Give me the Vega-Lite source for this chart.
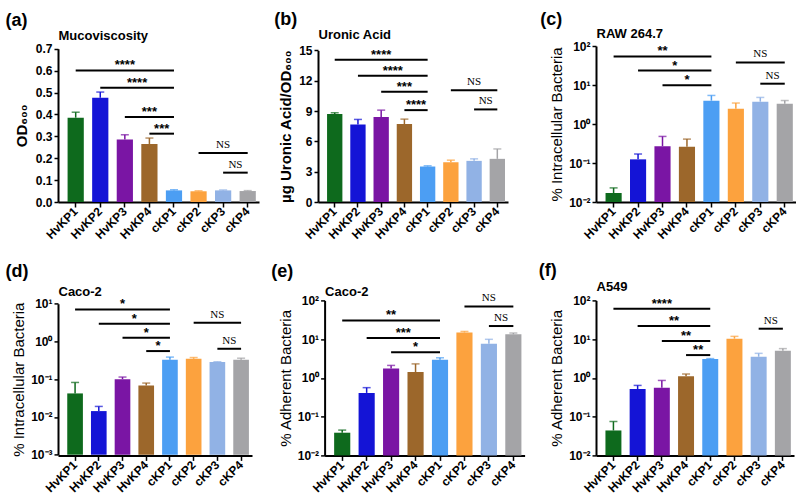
{
"$schema": "https://vega.github.io/schema/vega-lite/v6.json",
"background": "white",
"padding": {"left": 5, "top": 11, "right": 0, "bottom": 0},
"config": {
  "view": {"stroke": null},
  "font": "Liberation Sans",
  "axis": {"labelFont": "Liberation Sans", "labelFontSize": 12, "labelFontWeight": "bold", "labelColor": "black", "labelOverlap": false, "titleFont": "Liberation Sans", "titleColor": "black", "domainColor": "black", "domainWidth": 2, "tickColor": "black", "tickWidth": 1.5, "tickSize": 5, "grid": false, "labelPadding": 2}
},
"datasets": {
  "a": [{"g":"HvKP1","v":0.385,"e":0.41},{"g":"HvKP2","v":0.476,"e":0.502},{"g":"HvKP3","v":0.285,"e":0.307},{"g":"HvKP4","v":0.265,"e":0.292},{"g":"cKP1","v":0.053,"e":0.056},{"g":"cKP2","v":0.049,"e":0.051},{"g":"cKP3","v":0.053,"e":0.055},{"g":"cKP4","v":0.05,"e":0.052}],
  "a_sig": [{"a":"HvKP1","b":"cKP1","y":0.601,"t":"****","m":"HvKP3","h":false},{"a":"HvKP2","b":"cKP1","y":0.522,"t":"****","m":"HvKP3","h":true},{"a":"HvKP3","b":"cKP1","y":0.388,"t":"***","m":"HvKP4","h":false},{"a":"HvKP4","b":"cKP1","y":0.312,"t":"***","m":"HvKP4","h":true},{"a":"cKP2","b":"cKP4","y":0.224,"t":"NS","m":"cKP3","h":false},{"a":"cKP3","b":"cKP4","y":0.134,"t":"NS","m":"cKP3","h":true}],
  "b": [{"g":"HvKP1","v":8.70,"e":8.83},{"g":"HvKP2","v":7.68,"e":8.17},{"g":"HvKP3","v":8.40,"e":9.09},{"g":"HvKP4","v":7.71,"e":8.2},{"g":"cKP1","v":3.51,"e":3.58},{"g":"cKP2","v":3.94,"e":4.14},{"g":"cKP3","v":4.07,"e":4.27},{"g":"cKP4","v":4.27,"e":5.25}],
  "b_sig": [{"a":"HvKP1","b":"cKP1","y":14.08,"t":"****","m":"HvKP3","h":false},{"a":"HvKP2","b":"cKP1","y":12.5,"t":"****","m":"HvKP3","h":true},{"a":"HvKP3","b":"cKP1","y":10.9,"t":"***","m":"HvKP4","h":false},{"a":"HvKP4","b":"cKP1","y":9.09,"t":"****","m":"HvKP4","h":true},{"a":"cKP2","b":"cKP4","y":11.06,"t":"NS","m":"cKP3","h":false},{"a":"cKP3","b":"cKP4","y":9.16,"t":"NS","m":"cKP3","h":true}],
  "c": [{"g":"HvKP1","v":0.017,"e":0.023},{"g":"HvKP2","v":0.124,"e":0.17},{"g":"HvKP3","v":0.27,"e":0.48},{"g":"HvKP4","v":0.26,"e":0.41},{"g":"cKP1","v":3.96,"e":5.4},{"g":"cKP2","v":2.47,"e":3.45},{"g":"cKP3","v":3.74,"e":4.8},{"g":"cKP4","v":3.3,"e":4.0}],
  "c_sig": [{"a":"HvKP1","b":"cKP1","y":54,"t":"**","m":"HvKP3","h":false},{"a":"HvKP2","b":"cKP1","y":23.4,"t":"*","m":"HvKP3","h":true},{"a":"HvKP3","b":"cKP1","y":9.8,"t":"*","m":"HvKP4","h":false},{"a":"cKP2","b":"cKP4","y":38,"t":"NS","m":"cKP3","h":false},{"a":"cKP3","b":"cKP4","y":10.8,"t":"NS","m":"cKP3","h":true}],
  "d": [{"g":"HvKP1","v":0.042,"e":0.082},{"g":"HvKP2","v":0.0143,"e":0.019},{"g":"HvKP3","v":0.10,"e":0.114},{"g":"HvKP4","v":0.0686,"e":0.079},{"g":"cKP1","v":0.327,"e":0.385},{"g":"cKP2","v":0.348,"e":0.375},{"g":"cKP3","v":0.284,"e":0.29},{"g":"cKP4","v":0.327,"e":0.36}],
  "d_sig": [{"a":"HvKP1","b":"cKP1","y":7.05,"t":"*","m":"HvKP3","h":false},{"a":"HvKP2","b":"cKP1","y":2.94,"t":"*","m":"HvKP3","h":true},{"a":"HvKP3","b":"cKP1","y":1.25,"t":"*","m":"HvKP4","h":false},{"a":"HvKP4","b":"cKP1","y":0.556,"t":"*","m":"HvKP4","h":true},{"a":"cKP2","b":"cKP4","y":3.13,"t":"NS","m":"cKP3","h":false},{"a":"cKP3","b":"cKP4","y":0.64,"t":"NS","m":"cKP3","h":true}],
  "e": [{"g":"HvKP1","v":0.0385,"e":0.045},{"g":"HvKP2","v":0.41,"e":0.56},{"g":"HvKP3","v":1.76,"e":2.1},{"g":"HvKP4","v":1.41,"e":2.3},{"g":"cKP1","v":2.94,"e":3.3},{"g":"cKP2","v":14.9,"e":15.8},{"g":"cKP3","v":7.6,"e":9.9},{"g":"cKP4","v":13.3,"e":14.4}],
  "e_sig": [{"a":"HvKP1","b":"cKP1","y":30.5,"t":"**","m":"HvKP3","h":false},{"a":"HvKP2","b":"cKP1","y":10.7,"t":"***","m":"HvKP3","h":true},{"a":"HvKP3","b":"cKP1","y":4.6,"t":"*","m":"HvKP4","h":false},{"a":"cKP2","b":"cKP4","y":70,"t":"NS","m":"cKP3","h":false},{"a":"cKP3","b":"cKP4","y":21.8,"t":"NS","m":"cKP3","h":true}],
  "f": [{"g":"HvKP1","v":0.044,"e":0.075},{"g":"HvKP2","v":0.515,"e":0.64},{"g":"HvKP3","v":0.557,"e":0.86},{"g":"HvKP4","v":1.11,"e":1.26},{"g":"cKP1","v":3.06,"e":3.15},{"g":"cKP2","v":10.3,"e":11.8},{"g":"cKP3","v":3.52,"e":4.3},{"g":"cKP4","v":5.0,"e":5.7}],
  "f_sig": [{"a":"HvKP1","b":"cKP1","y":61,"t":"****","m":"HvKP3","h":false},{"a":"HvKP2","b":"cKP1","y":21.8,"t":"**","m":"HvKP3","h":true},{"a":"HvKP3","b":"cKP1","y":8.9,"t":"**","m":"HvKP4","h":false},{"a":"HvKP4","b":"cKP1","y":3.88,"t":"**","m":"HvKP4","h":true},{"a":"cKP3","b":"cKP4","y":18.6,"t":"NS","m":"cKP3","h":true}]
},
"columns": 3,
"align": "each",
"bounds": "flush",
"spacing": {"row": 98.4, "column": 40},
"concat": [
{
 "width": 219.2, "height": 156,
 "title": {"text": "(a)", "anchor": "start", "frame": "group", "dx": -52.5, "fontSize": 18, "fontWeight": "bold", "font": "Liberation Sans", "color": "black", "baseline": "alphabetic", "offset": -14},
 "resolve": {"axis": {"x": "independent"}},
 "layer": [
  {"data": {"name": "a"}, "mark": "bar", "encoding": {
    "x": {"field": "g", "type": "nominal", "scale": {"domain": ["HvKP1","HvKP2","HvKP3","HvKP4","cKP1","cKP2","cKP3","cKP4"], "paddingInner": 0.34, "paddingOuter": 0.26, "align": 0.75, "rangeMax": 201}, "axis": {"orient": "bottom", "title": null, "labelAngle": -45, "labelAlign": "right", "labelBaseline": "middle", "labelPadding": 2}},
    "y": {"field": "v", "type": "quantitative", "scale": {"domain": [0, 0.7], "nice": false, "zero": false, "rangeMin": 156, "rangeMax": 2.7}, "axis": {"title": "OD₆₀₀", "titleFontSize": 15, "titleFontWeight": "bold", "values": [0,0.1,0.2,0.3,0.4,0.5,0.6,0.7], "tickCount": 20, "format": ".1f", "labelOverlap": false, "tickSize": 4, "titlePadding": 6}},
    "y2": {"datum": 0},
    "color": {"field": "g", "type": "nominal", "scale": {"domain": ["HvKP1","HvKP2","HvKP3","HvKP4","cKP1","cKP2","cKP3","cKP4"], "range": ["#0e6a1d","#1414d6","#7a15a4","#9c672b","#4c9ef3","#fca23e","#91b2e5","#a4a4a7"]}, "legend": null}}},
  {"data": {"name": "a"}, "mark": {"type": "rule", "strokeWidth": 1.5}, "encoding": {
    "x": {"field": "g", "type": "nominal", "scale": {"domain": ["HvKP1","HvKP2","HvKP3","HvKP4","cKP1","cKP2","cKP3","cKP4"], "paddingInner": 0.34, "paddingOuter": 0.26, "align": 0.75, "rangeMax": 201}, "axis": null},
    "y": {"field": "v", "type": "quantitative", "scale": {"domain": [0, 0.7], "nice": false, "zero": false, "rangeMin": 156, "rangeMax": 2.7}},
    "y2": {"field": "e"},
    "color": {"field": "g", "type": "nominal", "legend": null}}},
  {"data": {"name": "a"}, "mark": {"type": "tick", "orient": "horizontal", "size": 8, "thickness": 1.5}, "encoding": {
    "x": {"field": "g", "type": "nominal", "scale": {"domain": ["HvKP1","HvKP2","HvKP3","HvKP4","cKP1","cKP2","cKP3","cKP4"], "paddingInner": 0.34, "paddingOuter": 0.26, "align": 0.75, "rangeMax": 201}, "axis": null},
    "y": {"field": "e", "type": "quantitative", "scale": {"domain": [0, 0.7], "nice": false, "zero": false, "rangeMin": 156, "rangeMax": 2.7}},
    "color": {"field": "g", "type": "nominal", "legend": null}}},
  {"data": {"name": "a_sig"}, "mark": {"type": "rule", "strokeWidth": 2, "color": "black"}, "encoding": {
    "x": {"field": "a", "type": "nominal", "scale": {"domain": ["HvKP1","HvKP2","HvKP3","HvKP4","cKP1","cKP2","cKP3","cKP4"], "paddingInner": 0.34, "paddingOuter": 0.26, "align": 0.75, "rangeMax": 201}, "axis": {"orient": "top", "title": "Mucoviscosity", "labels": false, "ticks": false, "domain": false, "titleAnchor": "start", "titleAlign": "left", "titleBaseline": "alphabetic", "titlePadding": 6.3, "titleFontSize": 13, "titleFontWeight": "bold"}},
    "x2": {"field": "b"},
    "y": {"field": "y", "type": "quantitative", "scale": {"domain": [0, 0.7], "nice": false, "zero": false, "rangeMin": 156, "rangeMax": 2.7}}}},
  {"data": {"name": "a_sig"}, "transform": [{"filter": "datum.t != 'NS' && !datum.h"}], "mark": {"type": "text", "font": "Liberation Sans", "fontWeight": "bold", "fontSize": 13, "baseline": "alphabetic", "dy": -1, "color": "black"}, "encoding": {
    "x": {"field": "m", "type": "nominal", "scale": {"domain": ["HvKP1","HvKP2","HvKP3","HvKP4","cKP1","cKP2","cKP3","cKP4"], "paddingInner": 0.34, "paddingOuter": 0.26, "align": 0.75, "rangeMax": 201}, "axis": null},
    "y": {"field": "y", "type": "quantitative", "scale": {"domain": [0, 0.7], "nice": false, "zero": false, "rangeMin": 156, "rangeMax": 2.7}},
    "text": {"field": "t"}}},
  {"data": {"name": "a_sig"}, "transform": [{"filter": "datum.t != 'NS' && datum.h"}], "mark": {"type": "text", "font": "Liberation Sans", "fontWeight": "bold", "fontSize": 13, "baseline": "alphabetic", "dy": -1, "color": "black"}, "encoding": {
    "x": {"field": "m", "type": "nominal", "bandPosition": 1.2576, "scale": {"domain": ["HvKP1","HvKP2","HvKP3","HvKP4","cKP1","cKP2","cKP3","cKP4"], "paddingInner": 0.34, "paddingOuter": 0.26, "align": 0.75, "rangeMax": 201}, "axis": null},
    "y": {"field": "y", "type": "quantitative", "scale": {"domain": [0, 0.7], "nice": false, "zero": false, "rangeMin": 156, "rangeMax": 2.7}},
    "text": {"field": "t"}}},
  {"data": {"name": "a_sig"}, "transform": [{"filter": "datum.t == 'NS' && !datum.h"}], "mark": {"type": "text", "font": "Liberation Serif", "fontSize": 11, "baseline": "alphabetic", "dy": -5, "color": "black"}, "encoding": {
    "x": {"field": "m", "type": "nominal", "scale": {"domain": ["HvKP1","HvKP2","HvKP3","HvKP4","cKP1","cKP2","cKP3","cKP4"], "paddingInner": 0.34, "paddingOuter": 0.26, "align": 0.75, "rangeMax": 201}, "axis": null},
    "y": {"field": "y", "type": "quantitative", "scale": {"domain": [0, 0.7], "nice": false, "zero": false, "rangeMin": 156, "rangeMax": 2.7}},
    "text": {"field": "t"}}},
  {"data": {"name": "a_sig"}, "transform": [{"filter": "datum.t == 'NS' && datum.h"}], "mark": {"type": "text", "font": "Liberation Serif", "fontSize": 11, "baseline": "alphabetic", "dy": -5, "color": "black"}, "encoding": {
    "x": {"field": "m", "type": "nominal", "bandPosition": 1.2576, "scale": {"domain": ["HvKP1","HvKP2","HvKP3","HvKP4","cKP1","cKP2","cKP3","cKP4"], "paddingInner": 0.34, "paddingOuter": 0.26, "align": 0.75, "rangeMax": 201}, "axis": null},
    "y": {"field": "y", "type": "quantitative", "scale": {"domain": [0, 0.7], "nice": false, "zero": false, "rangeMin": 156, "rangeMax": 2.7}},
    "text": {"field": "t"}}}
 ]
},
{
 "width": 237.3, "height": 156,
 "title": {"text": "(b)", "anchor": "start", "frame": "group", "dx": -43.7, "fontSize": 18, "fontWeight": "bold", "font": "Liberation Sans", "color": "black", "baseline": "alphabetic", "offset": -14.7},
 "resolve": {"axis": {"x": "independent"}},
 "layer": [
  {"data": {"name": "b"}, "mark": "bar", "encoding": {
    "x": {"field": "g", "type": "nominal", "scale": {"domain": ["HvKP1","HvKP2","HvKP3","HvKP4","cKP1","cKP2","cKP3","cKP4"], "paddingInner": 0.34, "paddingOuter": 0.26, "align": 0.75, "rangeMax": 190}, "axis": {"orient": "bottom", "title": null, "labelAngle": -45, "labelAlign": "right", "labelBaseline": "middle", "labelPadding": 2}},
    "y": {"field": "v", "type": "quantitative", "scale": {"domain": [0, 15], "nice": false, "zero": false, "rangeMin": 156, "rangeMax": 4.4}, "axis": {"title": "µg Uronic Acid/OD₆₀₀", "titleFontSize": 15, "titleFontWeight": "bold", "values": [0,3,6,9,12,15], "tickCount": 20, "labelOverlap": false, "tickSize": 4, "titlePadding": 5}},
    "y2": {"datum": 0},
    "color": {"field": "g", "type": "nominal", "scale": {"domain": ["HvKP1","HvKP2","HvKP3","HvKP4","cKP1","cKP2","cKP3","cKP4"], "range": ["#0e6a1d","#1414d6","#7a15a4","#9c672b","#4c9ef3","#fca23e","#91b2e5","#a4a4a7"]}, "legend": null}}},
  {"data": {"name": "b"}, "mark": {"type": "rule", "strokeWidth": 1.5}, "encoding": {
    "x": {"field": "g", "type": "nominal", "scale": {"domain": ["HvKP1","HvKP2","HvKP3","HvKP4","cKP1","cKP2","cKP3","cKP4"], "paddingInner": 0.34, "paddingOuter": 0.26, "align": 0.75, "rangeMax": 190}, "axis": null},
    "y": {"field": "v", "type": "quantitative", "scale": {"domain": [0, 15], "nice": false, "zero": false, "rangeMin": 156, "rangeMax": 4.4}},
    "y2": {"field": "e"},
    "color": {"field": "g", "type": "nominal", "legend": null}}},
  {"data": {"name": "b"}, "mark": {"type": "tick", "orient": "horizontal", "size": 8, "thickness": 1.5}, "encoding": {
    "x": {"field": "g", "type": "nominal", "scale": {"domain": ["HvKP1","HvKP2","HvKP3","HvKP4","cKP1","cKP2","cKP3","cKP4"], "paddingInner": 0.34, "paddingOuter": 0.26, "align": 0.75, "rangeMax": 190}, "axis": null},
    "y": {"field": "e", "type": "quantitative", "scale": {"domain": [0, 15], "nice": false, "zero": false, "rangeMin": 156, "rangeMax": 4.4}},
    "color": {"field": "g", "type": "nominal", "legend": null}}},
  {"data": {"name": "b_sig"}, "mark": {"type": "rule", "strokeWidth": 2, "color": "black"}, "encoding": {
    "x": {"field": "a", "type": "nominal", "scale": {"domain": ["HvKP1","HvKP2","HvKP3","HvKP4","cKP1","cKP2","cKP3","cKP4"], "paddingInner": 0.34, "paddingOuter": 0.26, "align": 0.75, "rangeMax": 190}, "axis": {"orient": "top", "title": "Uronic Acid", "labels": false, "ticks": false, "domain": false, "titleAnchor": "start", "titleAlign": "left", "titleBaseline": "alphabetic", "titlePadding": 7.3, "titleFontSize": 13, "titleFontWeight": "bold"}},
    "x2": {"field": "b"},
    "y": {"field": "y", "type": "quantitative", "scale": {"domain": [0, 15], "nice": false, "zero": false, "rangeMin": 156, "rangeMax": 4.4}}}},
  {"data": {"name": "b_sig"}, "transform": [{"filter": "datum.t != 'NS' && !datum.h"}], "mark": {"type": "text", "font": "Liberation Sans", "fontWeight": "bold", "fontSize": 13, "baseline": "alphabetic", "dy": -1, "color": "black"}, "encoding": {
    "x": {"field": "m", "type": "nominal", "scale": {"domain": ["HvKP1","HvKP2","HvKP3","HvKP4","cKP1","cKP2","cKP3","cKP4"], "paddingInner": 0.34, "paddingOuter": 0.26, "align": 0.75, "rangeMax": 190}, "axis": null},
    "y": {"field": "y", "type": "quantitative", "scale": {"domain": [0, 15], "nice": false, "zero": false, "rangeMin": 156, "rangeMax": 4.4}},
    "text": {"field": "t"}}},
  {"data": {"name": "b_sig"}, "transform": [{"filter": "datum.t != 'NS' && datum.h"}], "mark": {"type": "text", "font": "Liberation Sans", "fontWeight": "bold", "fontSize": 13, "baseline": "alphabetic", "dy": -1, "color": "black"}, "encoding": {
    "x": {"field": "m", "type": "nominal", "bandPosition": 1.2576, "scale": {"domain": ["HvKP1","HvKP2","HvKP3","HvKP4","cKP1","cKP2","cKP3","cKP4"], "paddingInner": 0.34, "paddingOuter": 0.26, "align": 0.75, "rangeMax": 190}, "axis": null},
    "y": {"field": "y", "type": "quantitative", "scale": {"domain": [0, 15], "nice": false, "zero": false, "rangeMin": 156, "rangeMax": 4.4}},
    "text": {"field": "t"}}},
  {"data": {"name": "b_sig"}, "transform": [{"filter": "datum.t == 'NS' && !datum.h"}], "mark": {"type": "text", "font": "Liberation Serif", "fontSize": 11, "baseline": "alphabetic", "dy": -5, "color": "black"}, "encoding": {
    "x": {"field": "m", "type": "nominal", "scale": {"domain": ["HvKP1","HvKP2","HvKP3","HvKP4","cKP1","cKP2","cKP3","cKP4"], "paddingInner": 0.34, "paddingOuter": 0.26, "align": 0.75, "rangeMax": 190}, "axis": null},
    "y": {"field": "y", "type": "quantitative", "scale": {"domain": [0, 15], "nice": false, "zero": false, "rangeMin": 156, "rangeMax": 4.4}},
    "text": {"field": "t"}}},
  {"data": {"name": "b_sig"}, "transform": [{"filter": "datum.t == 'NS' && datum.h"}], "mark": {"type": "text", "font": "Liberation Serif", "fontSize": 11, "baseline": "alphabetic", "dy": -5, "color": "black"}, "encoding": {
    "x": {"field": "m", "type": "nominal", "bandPosition": 1.2576, "scale": {"domain": ["HvKP1","HvKP2","HvKP3","HvKP4","cKP1","cKP2","cKP3","cKP4"], "paddingInner": 0.34, "paddingOuter": 0.26, "align": 0.75, "rangeMax": 190}, "axis": null},
    "y": {"field": "y", "type": "quantitative", "scale": {"domain": [0, 15], "nice": false, "zero": false, "rangeMin": 156, "rangeMax": 4.4}},
    "text": {"field": "t"}}}
 ]
},
{
 "width": 200, "height": 156,
 "title": {"text": "(c)", "anchor": "start", "frame": "group", "dx": -55.7, "fontSize": 18, "fontWeight": "bold", "font": "Liberation Sans", "color": "black", "baseline": "alphabetic", "offset": -16.4},
 "resolve": {"axis": {"x": "independent"}},
 "layer": [
  {"data": {"name": "c"}, "mark": "bar", "encoding": {
    "x": {"field": "g", "type": "nominal", "scale": {"domain": ["HvKP1","HvKP2","HvKP3","HvKP4","cKP1","cKP2","cKP3","cKP4"], "paddingInner": 0.34, "paddingOuter": 0.26, "align": 0.75}, "axis": {"orient": "bottom", "title": null, "labelAngle": -45, "labelAlign": "right", "labelBaseline": "middle", "labelPadding": 2}},
    "y": {"field": "v", "type": "quantitative", "scale": {"type": "log", "domain": [0.01, 100], "nice": false}, "axis": {"title": "% Intracellular Bacteria", "titleFontSize": 15, "titleFontWeight": "normal", "values": [0.01,0.1,1,10,100], "tickCount": 20, "labelOverlap": false, "tickSize": 4, "labelExpr": "datum.value < 0.005 ? '10⁻³' : datum.value < 0.05 ? '10⁻²' : datum.value < 0.5 ? '10⁻¹' : datum.value < 5 ? '10⁰' : datum.value < 50 ? '10¹' : '10²'", "titlePadding": 4}},
    "y2": {"datum": 0.01},
    "color": {"field": "g", "type": "nominal", "scale": {"domain": ["HvKP1","HvKP2","HvKP3","HvKP4","cKP1","cKP2","cKP3","cKP4"], "range": ["#0e6a1d","#1414d6","#7a15a4","#9c672b","#4c9ef3","#fca23e","#91b2e5","#a4a4a7"]}, "legend": null}}},
  {"data": {"name": "c"}, "mark": {"type": "rule", "strokeWidth": 1.5}, "encoding": {
    "x": {"field": "g", "type": "nominal", "scale": {"domain": ["HvKP1","HvKP2","HvKP3","HvKP4","cKP1","cKP2","cKP3","cKP4"], "paddingInner": 0.34, "paddingOuter": 0.26, "align": 0.75}, "axis": null},
    "y": {"field": "v", "type": "quantitative", "scale": {"type": "log", "domain": [0.01, 100], "nice": false}},
    "y2": {"field": "e"},
    "color": {"field": "g", "type": "nominal", "legend": null}}},
  {"data": {"name": "c"}, "mark": {"type": "tick", "orient": "horizontal", "size": 8, "thickness": 1.5}, "encoding": {
    "x": {"field": "g", "type": "nominal", "scale": {"domain": ["HvKP1","HvKP2","HvKP3","HvKP4","cKP1","cKP2","cKP3","cKP4"], "paddingInner": 0.34, "paddingOuter": 0.26, "align": 0.75}, "axis": null},
    "y": {"field": "e", "type": "quantitative", "scale": {"type": "log", "domain": [0.01, 100], "nice": false}},
    "color": {"field": "g", "type": "nominal", "legend": null}}},
  {"data": {"name": "c_sig"}, "mark": {"type": "rule", "strokeWidth": 2, "color": "black"}, "encoding": {
    "x": {"field": "a", "type": "nominal", "scale": {"domain": ["HvKP1","HvKP2","HvKP3","HvKP4","cKP1","cKP2","cKP3","cKP4"], "paddingInner": 0.34, "paddingOuter": 0.26, "align": 0.75}, "axis": {"orient": "top", "title": "RAW 264.7", "labels": false, "ticks": false, "domain": false, "titleAnchor": "start", "titleAlign": "left", "titleBaseline": "alphabetic", "titlePadding": 9, "titleFontSize": 13, "titleFontWeight": "bold"}},
    "x2": {"field": "b"},
    "y": {"field": "y", "type": "quantitative", "scale": {"type": "log", "domain": [0.01, 100], "nice": false}}}},
  {"data": {"name": "c_sig"}, "transform": [{"filter": "datum.t != 'NS' && !datum.h"}], "mark": {"type": "text", "font": "Liberation Sans", "fontWeight": "bold", "fontSize": 13, "baseline": "alphabetic", "dy": -1, "color": "black"}, "encoding": {
    "x": {"field": "m", "type": "nominal", "scale": {"domain": ["HvKP1","HvKP2","HvKP3","HvKP4","cKP1","cKP2","cKP3","cKP4"], "paddingInner": 0.34, "paddingOuter": 0.26, "align": 0.75}, "axis": null},
    "y": {"field": "y", "type": "quantitative", "scale": {"type": "log", "domain": [0.01, 100], "nice": false}},
    "text": {"field": "t"}}},
  {"data": {"name": "c_sig"}, "transform": [{"filter": "datum.t != 'NS' && datum.h"}], "mark": {"type": "text", "font": "Liberation Sans", "fontWeight": "bold", "fontSize": 13, "baseline": "alphabetic", "dy": -1, "color": "black"}, "encoding": {
    "x": {"field": "m", "type": "nominal", "bandPosition": 1.2576, "scale": {"domain": ["HvKP1","HvKP2","HvKP3","HvKP4","cKP1","cKP2","cKP3","cKP4"], "paddingInner": 0.34, "paddingOuter": 0.26, "align": 0.75}, "axis": null},
    "y": {"field": "y", "type": "quantitative", "scale": {"type": "log", "domain": [0.01, 100], "nice": false}},
    "text": {"field": "t"}}},
  {"data": {"name": "c_sig"}, "transform": [{"filter": "datum.t == 'NS' && !datum.h"}], "mark": {"type": "text", "font": "Liberation Serif", "fontSize": 11, "baseline": "alphabetic", "dy": -5, "color": "black"}, "encoding": {
    "x": {"field": "m", "type": "nominal", "scale": {"domain": ["HvKP1","HvKP2","HvKP3","HvKP4","cKP1","cKP2","cKP3","cKP4"], "paddingInner": 0.34, "paddingOuter": 0.26, "align": 0.75}, "axis": null},
    "y": {"field": "y", "type": "quantitative", "scale": {"type": "log", "domain": [0.01, 100], "nice": false}},
    "text": {"field": "t"}}},
  {"data": {"name": "c_sig"}, "transform": [{"filter": "datum.t == 'NS' && datum.h"}], "mark": {"type": "text", "font": "Liberation Serif", "fontSize": 11, "baseline": "alphabetic", "dy": -5, "color": "black"}, "encoding": {
    "x": {"field": "m", "type": "nominal", "bandPosition": 1.2576, "scale": {"domain": ["HvKP1","HvKP2","HvKP3","HvKP4","cKP1","cKP2","cKP3","cKP4"], "paddingInner": 0.34, "paddingOuter": 0.26, "align": 0.75}, "axis": null},
    "y": {"field": "y", "type": "quantitative", "scale": {"type": "log", "domain": [0.01, 100], "nice": false}},
    "text": {"field": "t"}}}
 ]
},
{
 "width": 219.2, "height": 155,
 "title": {"text": "(d)", "anchor": "start", "frame": "group", "dx": -52.5, "fontSize": 18, "fontWeight": "bold", "font": "Liberation Sans", "color": "black", "baseline": "alphabetic", "offset": -9.7},
 "resolve": {"axis": {"x": "independent"}},
 "layer": [
  {"data": {"name": "d"}, "mark": "bar", "encoding": {
    "x": {"field": "g", "type": "nominal", "scale": {"domain": ["HvKP1","HvKP2","HvKP3","HvKP4","cKP1","cKP2","cKP3","cKP4"], "paddingInner": 0.34, "paddingOuter": 0.26, "align": 0.75, "rangeMax": 194}, "axis": {"orient": "bottom", "title": null, "labelAngle": -45, "labelAlign": "right", "labelBaseline": "middle", "labelPadding": 2}},
    "y": {"field": "v", "type": "quantitative", "scale": {"type": "log", "domain": [0.001, 10], "nice": false, "rangeMin": 154.3, "rangeMax": 3.3}, "axis": {"title": "% Intracellular Bacteria", "titleFontSize": 15, "titleFontWeight": "normal", "values": [0.001,0.01,0.1,1,10], "tickCount": 20, "labelOverlap": false, "tickSize": 4, "labelExpr": "datum.value < 0.005 ? '10⁻³' : datum.value < 0.05 ? '10⁻²' : datum.value < 0.5 ? '10⁻¹' : datum.value < 5 ? '10⁰' : datum.value < 50 ? '10¹' : '10²'", "titlePadding": 4}},
    "y2": {"datum": 0.001},
    "color": {"field": "g", "type": "nominal", "scale": {"domain": ["HvKP1","HvKP2","HvKP3","HvKP4","cKP1","cKP2","cKP3","cKP4"], "range": ["#0e6a1d","#1414d6","#7a15a4","#9c672b","#4c9ef3","#fca23e","#91b2e5","#a4a4a7"]}, "legend": null}}},
  {"data": {"name": "d"}, "mark": {"type": "rule", "strokeWidth": 1.5}, "encoding": {
    "x": {"field": "g", "type": "nominal", "scale": {"domain": ["HvKP1","HvKP2","HvKP3","HvKP4","cKP1","cKP2","cKP3","cKP4"], "paddingInner": 0.34, "paddingOuter": 0.26, "align": 0.75, "rangeMax": 194}, "axis": null},
    "y": {"field": "v", "type": "quantitative", "scale": {"type": "log", "domain": [0.001, 10], "nice": false, "rangeMin": 154.3, "rangeMax": 3.3}},
    "y2": {"field": "e"},
    "color": {"field": "g", "type": "nominal", "legend": null}}},
  {"data": {"name": "d"}, "mark": {"type": "tick", "orient": "horizontal", "size": 8, "thickness": 1.5}, "encoding": {
    "x": {"field": "g", "type": "nominal", "scale": {"domain": ["HvKP1","HvKP2","HvKP3","HvKP4","cKP1","cKP2","cKP3","cKP4"], "paddingInner": 0.34, "paddingOuter": 0.26, "align": 0.75, "rangeMax": 194}, "axis": null},
    "y": {"field": "e", "type": "quantitative", "scale": {"type": "log", "domain": [0.001, 10], "nice": false, "rangeMin": 154.3, "rangeMax": 3.3}},
    "color": {"field": "g", "type": "nominal", "legend": null}}},
  {"data": {"name": "d_sig"}, "mark": {"type": "rule", "strokeWidth": 2, "color": "black"}, "encoding": {
    "x": {"field": "a", "type": "nominal", "scale": {"domain": ["HvKP1","HvKP2","HvKP3","HvKP4","cKP1","cKP2","cKP3","cKP4"], "paddingInner": 0.34, "paddingOuter": 0.26, "align": 0.75, "rangeMax": 194}, "axis": {"orient": "top", "title": "Caco-2", "labels": false, "ticks": false, "domain": false, "titleAnchor": "start", "titleAlign": "left", "titleBaseline": "alphabetic", "titlePadding": 5, "titleFontSize": 13, "titleFontWeight": "bold"}},
    "x2": {"field": "b"},
    "y": {"field": "y", "type": "quantitative", "scale": {"type": "log", "domain": [0.001, 10], "nice": false, "rangeMin": 154.3, "rangeMax": 3.3}}}},
  {"data": {"name": "d_sig"}, "transform": [{"filter": "datum.t != 'NS' && !datum.h"}], "mark": {"type": "text", "font": "Liberation Sans", "fontWeight": "bold", "fontSize": 13, "baseline": "alphabetic", "dy": -1, "color": "black"}, "encoding": {
    "x": {"field": "m", "type": "nominal", "scale": {"domain": ["HvKP1","HvKP2","HvKP3","HvKP4","cKP1","cKP2","cKP3","cKP4"], "paddingInner": 0.34, "paddingOuter": 0.26, "align": 0.75, "rangeMax": 194}, "axis": null},
    "y": {"field": "y", "type": "quantitative", "scale": {"type": "log", "domain": [0.001, 10], "nice": false, "rangeMin": 154.3, "rangeMax": 3.3}},
    "text": {"field": "t"}}},
  {"data": {"name": "d_sig"}, "transform": [{"filter": "datum.t != 'NS' && datum.h"}], "mark": {"type": "text", "font": "Liberation Sans", "fontWeight": "bold", "fontSize": 13, "baseline": "alphabetic", "dy": -1, "color": "black"}, "encoding": {
    "x": {"field": "m", "type": "nominal", "bandPosition": 1.2576, "scale": {"domain": ["HvKP1","HvKP2","HvKP3","HvKP4","cKP1","cKP2","cKP3","cKP4"], "paddingInner": 0.34, "paddingOuter": 0.26, "align": 0.75, "rangeMax": 194}, "axis": null},
    "y": {"field": "y", "type": "quantitative", "scale": {"type": "log", "domain": [0.001, 10], "nice": false, "rangeMin": 154.3, "rangeMax": 3.3}},
    "text": {"field": "t"}}},
  {"data": {"name": "d_sig"}, "transform": [{"filter": "datum.t == 'NS' && !datum.h"}], "mark": {"type": "text", "font": "Liberation Serif", "fontSize": 11, "baseline": "alphabetic", "dy": -5, "color": "black"}, "encoding": {
    "x": {"field": "m", "type": "nominal", "scale": {"domain": ["HvKP1","HvKP2","HvKP3","HvKP4","cKP1","cKP2","cKP3","cKP4"], "paddingInner": 0.34, "paddingOuter": 0.26, "align": 0.75, "rangeMax": 194}, "axis": null},
    "y": {"field": "y", "type": "quantitative", "scale": {"type": "log", "domain": [0.001, 10], "nice": false, "rangeMin": 154.3, "rangeMax": 3.3}},
    "text": {"field": "t"}}},
  {"data": {"name": "d_sig"}, "transform": [{"filter": "datum.t == 'NS' && datum.h"}], "mark": {"type": "text", "font": "Liberation Serif", "fontSize": 11, "baseline": "alphabetic", "dy": -5, "color": "black"}, "encoding": {
    "x": {"field": "m", "type": "nominal", "bandPosition": 1.2576, "scale": {"domain": ["HvKP1","HvKP2","HvKP3","HvKP4","cKP1","cKP2","cKP3","cKP4"], "paddingInner": 0.34, "paddingOuter": 0.26, "align": 0.75, "rangeMax": 194}, "axis": null},
    "y": {"field": "y", "type": "quantitative", "scale": {"type": "log", "domain": [0.001, 10], "nice": false, "rangeMin": 154.3, "rangeMax": 3.3}},
    "text": {"field": "t"}}}
 ]
},
{
 "width": 237.3, "height": 155,
 "title": {"text": "(e)", "anchor": "start", "frame": "group", "dx": -46.7, "fontSize": 18, "fontWeight": "bold", "font": "Liberation Sans", "color": "black", "baseline": "alphabetic", "offset": -9.7},
 "resolve": {"axis": {"x": "independent"}},
 "layer": [
  {"data": {"name": "e"}, "mark": "bar", "encoding": {
    "x": {"field": "g", "type": "nominal", "scale": {"domain": ["HvKP1","HvKP2","HvKP3","HvKP4","cKP1","cKP2","cKP3","cKP4"], "paddingInner": 0.34, "paddingOuter": 0.26, "align": 0.75, "rangeMin": 6.6, "rangeMax": 206.6}, "axis": {"orient": "bottom", "title": null, "labelAngle": -45, "labelAlign": "right", "labelBaseline": "middle", "labelPadding": 2}},
    "y": {"field": "v", "type": "quantitative", "scale": {"type": "log", "domain": [0.01, 100], "nice": false}, "axis": {"title": "% Adherent Bacteria", "titleFontSize": 15, "titleFontWeight": "normal", "offset": -6.6, "values": [0.01,0.1,1,10,100], "tickCount": 20, "labelOverlap": false, "tickSize": 4, "labelExpr": "datum.value < 0.005 ? '10⁻³' : datum.value < 0.05 ? '10⁻²' : datum.value < 0.5 ? '10⁻¹' : datum.value < 5 ? '10⁰' : datum.value < 50 ? '10¹' : '10²'", "titlePadding": 4}},
    "y2": {"datum": 0.01},
    "color": {"field": "g", "type": "nominal", "scale": {"domain": ["HvKP1","HvKP2","HvKP3","HvKP4","cKP1","cKP2","cKP3","cKP4"], "range": ["#0e6a1d","#1414d6","#7a15a4","#9c672b","#4c9ef3","#fca23e","#91b2e5","#a4a4a7"]}, "legend": null}}},
  {"data": {"name": "e"}, "mark": {"type": "rule", "strokeWidth": 1.5}, "encoding": {
    "x": {"field": "g", "type": "nominal", "scale": {"domain": ["HvKP1","HvKP2","HvKP3","HvKP4","cKP1","cKP2","cKP3","cKP4"], "paddingInner": 0.34, "paddingOuter": 0.26, "align": 0.75, "rangeMin": 6.6, "rangeMax": 206.6}, "axis": null},
    "y": {"field": "v", "type": "quantitative", "scale": {"type": "log", "domain": [0.01, 100], "nice": false}},
    "y2": {"field": "e"},
    "color": {"field": "g", "type": "nominal", "legend": null}}},
  {"data": {"name": "e"}, "mark": {"type": "tick", "orient": "horizontal", "size": 8, "thickness": 1.5}, "encoding": {
    "x": {"field": "g", "type": "nominal", "scale": {"domain": ["HvKP1","HvKP2","HvKP3","HvKP4","cKP1","cKP2","cKP3","cKP4"], "paddingInner": 0.34, "paddingOuter": 0.26, "align": 0.75, "rangeMin": 6.6, "rangeMax": 206.6}, "axis": null},
    "y": {"field": "e", "type": "quantitative", "scale": {"type": "log", "domain": [0.01, 100], "nice": false}},
    "color": {"field": "g", "type": "nominal", "legend": null}}},
  {"data": {"name": "e_sig"}, "mark": {"type": "rule", "strokeWidth": 2, "color": "black"}, "encoding": {
    "x": {"field": "a", "type": "nominal", "scale": {"domain": ["HvKP1","HvKP2","HvKP3","HvKP4","cKP1","cKP2","cKP3","cKP4"], "paddingInner": 0.34, "paddingOuter": 0.26, "align": 0.75, "rangeMin": 6.6, "rangeMax": 206.6}, "axis": {"orient": "top", "title": "Caco-2", "labels": false, "ticks": false, "domain": false, "titleAnchor": "start", "titleAlign": "left", "titleBaseline": "alphabetic", "titlePadding": 5, "titleFontSize": 13, "titleFontWeight": "bold"}},
    "x2": {"field": "b"},
    "y": {"field": "y", "type": "quantitative", "scale": {"type": "log", "domain": [0.01, 100], "nice": false}}}},
  {"data": {"name": "e_sig"}, "transform": [{"filter": "datum.t != 'NS' && !datum.h"}], "mark": {"type": "text", "font": "Liberation Sans", "fontWeight": "bold", "fontSize": 13, "baseline": "alphabetic", "dy": -1, "color": "black"}, "encoding": {
    "x": {"field": "m", "type": "nominal", "scale": {"domain": ["HvKP1","HvKP2","HvKP3","HvKP4","cKP1","cKP2","cKP3","cKP4"], "paddingInner": 0.34, "paddingOuter": 0.26, "align": 0.75, "rangeMin": 6.6, "rangeMax": 206.6}, "axis": null},
    "y": {"field": "y", "type": "quantitative", "scale": {"type": "log", "domain": [0.01, 100], "nice": false}},
    "text": {"field": "t"}}},
  {"data": {"name": "e_sig"}, "transform": [{"filter": "datum.t != 'NS' && datum.h"}], "mark": {"type": "text", "font": "Liberation Sans", "fontWeight": "bold", "fontSize": 13, "baseline": "alphabetic", "dy": -1, "color": "black"}, "encoding": {
    "x": {"field": "m", "type": "nominal", "bandPosition": 1.2576, "scale": {"domain": ["HvKP1","HvKP2","HvKP3","HvKP4","cKP1","cKP2","cKP3","cKP4"], "paddingInner": 0.34, "paddingOuter": 0.26, "align": 0.75, "rangeMin": 6.6, "rangeMax": 206.6}, "axis": null},
    "y": {"field": "y", "type": "quantitative", "scale": {"type": "log", "domain": [0.01, 100], "nice": false}},
    "text": {"field": "t"}}},
  {"data": {"name": "e_sig"}, "transform": [{"filter": "datum.t == 'NS' && !datum.h"}], "mark": {"type": "text", "font": "Liberation Serif", "fontSize": 11, "baseline": "alphabetic", "dy": -5, "color": "black"}, "encoding": {
    "x": {"field": "m", "type": "nominal", "scale": {"domain": ["HvKP1","HvKP2","HvKP3","HvKP4","cKP1","cKP2","cKP3","cKP4"], "paddingInner": 0.34, "paddingOuter": 0.26, "align": 0.75, "rangeMin": 6.6, "rangeMax": 206.6}, "axis": null},
    "y": {"field": "y", "type": "quantitative", "scale": {"type": "log", "domain": [0.01, 100], "nice": false}},
    "text": {"field": "t"}}},
  {"data": {"name": "e_sig"}, "transform": [{"filter": "datum.t == 'NS' && datum.h"}], "mark": {"type": "text", "font": "Liberation Serif", "fontSize": 11, "baseline": "alphabetic", "dy": -5, "color": "black"}, "encoding": {
    "x": {"field": "m", "type": "nominal", "bandPosition": 1.2576, "scale": {"domain": ["HvKP1","HvKP2","HvKP3","HvKP4","cKP1","cKP2","cKP3","cKP4"], "paddingInner": 0.34, "paddingOuter": 0.26, "align": 0.75, "rangeMin": 6.6, "rangeMax": 206.6}, "axis": null},
    "y": {"field": "y", "type": "quantitative", "scale": {"type": "log", "domain": [0.01, 100], "nice": false}},
    "text": {"field": "t"}}}
 ]
},
{
 "width": 200, "height": 155,
 "title": {"text": "(f)", "anchor": "start", "frame": "group", "dx": -57.3, "fontSize": 18, "fontWeight": "bold", "font": "Liberation Sans", "color": "black", "baseline": "alphabetic", "offset": -13.7},
 "resolve": {"axis": {"x": "independent"}},
 "layer": [
  {"data": {"name": "f"}, "mark": "bar", "encoding": {
    "x": {"field": "g", "type": "nominal", "scale": {"domain": ["HvKP1","HvKP2","HvKP3","HvKP4","cKP1","cKP2","cKP3","cKP4"], "paddingInner": 0.34, "paddingOuter": 0.26, "align": 0.75, "rangeMax": 198}, "axis": {"orient": "bottom", "title": null, "labelAngle": -45, "labelAlign": "right", "labelBaseline": "middle", "labelPadding": 2}},
    "y": {"field": "v", "type": "quantitative", "scale": {"type": "log", "domain": [0.01, 100], "nice": false}, "axis": {"title": "% Adherent Bacteria", "titleFontSize": 15, "titleFontWeight": "normal", "values": [0.01,0.1,1,10,100], "tickCount": 20, "labelOverlap": false, "tickSize": 4, "labelExpr": "datum.value < 0.005 ? '10⁻³' : datum.value < 0.05 ? '10⁻²' : datum.value < 0.5 ? '10⁻¹' : datum.value < 5 ? '10⁰' : datum.value < 50 ? '10¹' : '10²'", "titlePadding": 4}},
    "y2": {"datum": 0.01},
    "color": {"field": "g", "type": "nominal", "scale": {"domain": ["HvKP1","HvKP2","HvKP3","HvKP4","cKP1","cKP2","cKP3","cKP4"], "range": ["#0e6a1d","#1414d6","#7a15a4","#9c672b","#4c9ef3","#fca23e","#91b2e5","#a4a4a7"]}, "legend": null}}},
  {"data": {"name": "f"}, "mark": {"type": "rule", "strokeWidth": 1.5}, "encoding": {
    "x": {"field": "g", "type": "nominal", "scale": {"domain": ["HvKP1","HvKP2","HvKP3","HvKP4","cKP1","cKP2","cKP3","cKP4"], "paddingInner": 0.34, "paddingOuter": 0.26, "align": 0.75, "rangeMax": 198}, "axis": null},
    "y": {"field": "v", "type": "quantitative", "scale": {"type": "log", "domain": [0.01, 100], "nice": false}},
    "y2": {"field": "e"},
    "color": {"field": "g", "type": "nominal", "legend": null}}},
  {"data": {"name": "f"}, "mark": {"type": "tick", "orient": "horizontal", "size": 8, "thickness": 1.5}, "encoding": {
    "x": {"field": "g", "type": "nominal", "scale": {"domain": ["HvKP1","HvKP2","HvKP3","HvKP4","cKP1","cKP2","cKP3","cKP4"], "paddingInner": 0.34, "paddingOuter": 0.26, "align": 0.75, "rangeMax": 198}, "axis": null},
    "y": {"field": "e", "type": "quantitative", "scale": {"type": "log", "domain": [0.01, 100], "nice": false}},
    "color": {"field": "g", "type": "nominal", "legend": null}}},
  {"data": {"name": "f_sig"}, "mark": {"type": "rule", "strokeWidth": 2, "color": "black"}, "encoding": {
    "x": {"field": "a", "type": "nominal", "scale": {"domain": ["HvKP1","HvKP2","HvKP3","HvKP4","cKP1","cKP2","cKP3","cKP4"], "paddingInner": 0.34, "paddingOuter": 0.26, "align": 0.75, "rangeMax": 198}, "axis": {"orient": "top", "title": "A549", "labels": false, "ticks": false, "domain": false, "titleAnchor": "start", "titleAlign": "left", "titleBaseline": "alphabetic", "titlePadding": 10, "titleFontSize": 13, "titleFontWeight": "bold"}},
    "x2": {"field": "b"},
    "y": {"field": "y", "type": "quantitative", "scale": {"type": "log", "domain": [0.01, 100], "nice": false}}}},
  {"data": {"name": "f_sig"}, "transform": [{"filter": "datum.t != 'NS' && !datum.h"}], "mark": {"type": "text", "font": "Liberation Sans", "fontWeight": "bold", "fontSize": 13, "baseline": "alphabetic", "dy": -1, "color": "black"}, "encoding": {
    "x": {"field": "m", "type": "nominal", "scale": {"domain": ["HvKP1","HvKP2","HvKP3","HvKP4","cKP1","cKP2","cKP3","cKP4"], "paddingInner": 0.34, "paddingOuter": 0.26, "align": 0.75, "rangeMax": 198}, "axis": null},
    "y": {"field": "y", "type": "quantitative", "scale": {"type": "log", "domain": [0.01, 100], "nice": false}},
    "text": {"field": "t"}}},
  {"data": {"name": "f_sig"}, "transform": [{"filter": "datum.t != 'NS' && datum.h"}], "mark": {"type": "text", "font": "Liberation Sans", "fontWeight": "bold", "fontSize": 13, "baseline": "alphabetic", "dy": -1, "color": "black"}, "encoding": {
    "x": {"field": "m", "type": "nominal", "bandPosition": 1.2576, "scale": {"domain": ["HvKP1","HvKP2","HvKP3","HvKP4","cKP1","cKP2","cKP3","cKP4"], "paddingInner": 0.34, "paddingOuter": 0.26, "align": 0.75, "rangeMax": 198}, "axis": null},
    "y": {"field": "y", "type": "quantitative", "scale": {"type": "log", "domain": [0.01, 100], "nice": false}},
    "text": {"field": "t"}}},
  {"data": {"name": "f_sig"}, "transform": [{"filter": "datum.t == 'NS' && !datum.h"}], "mark": {"type": "text", "font": "Liberation Serif", "fontSize": 11, "baseline": "alphabetic", "dy": -5, "color": "black"}, "encoding": {
    "x": {"field": "m", "type": "nominal", "scale": {"domain": ["HvKP1","HvKP2","HvKP3","HvKP4","cKP1","cKP2","cKP3","cKP4"], "paddingInner": 0.34, "paddingOuter": 0.26, "align": 0.75, "rangeMax": 198}, "axis": null},
    "y": {"field": "y", "type": "quantitative", "scale": {"type": "log", "domain": [0.01, 100], "nice": false}},
    "text": {"field": "t"}}},
  {"data": {"name": "f_sig"}, "transform": [{"filter": "datum.t == 'NS' && datum.h"}], "mark": {"type": "text", "font": "Liberation Serif", "fontSize": 11, "baseline": "alphabetic", "dy": -5, "color": "black"}, "encoding": {
    "x": {"field": "m", "type": "nominal", "bandPosition": 1.2576, "scale": {"domain": ["HvKP1","HvKP2","HvKP3","HvKP4","cKP1","cKP2","cKP3","cKP4"], "paddingInner": 0.34, "paddingOuter": 0.26, "align": 0.75, "rangeMax": 198}, "axis": null},
    "y": {"field": "y", "type": "quantitative", "scale": {"type": "log", "domain": [0.01, 100], "nice": false}},
    "text": {"field": "t"}}}
 ]
}
]
}
